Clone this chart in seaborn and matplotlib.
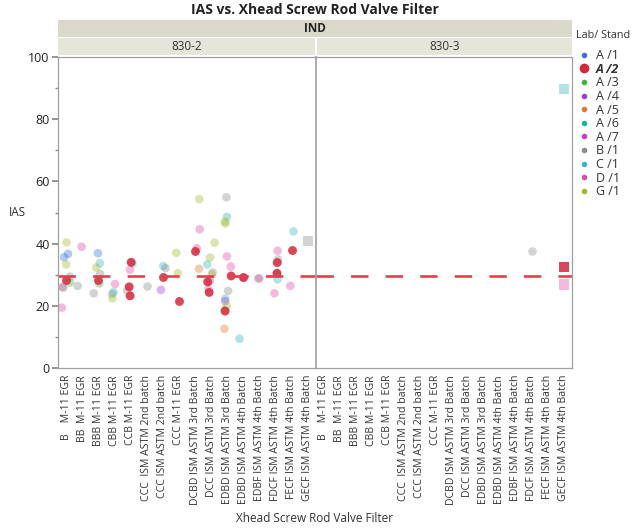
import numpy as np
import pandas as pd
import matplotlib
matplotlib.use("Agg")
import matplotlib.pyplot as plt
from matplotlib.lines import Line2D
import seaborn as sns

# ---------------- data ----------------
categories = ["B    M-11 EGR", "BB  M-11 EGR", "BBB M-11 EGR", "CBB M-11 EGR", "CCB M-11 EGR",
              "CCC  ISM ASTM 2nd batch", "CCC ISM ASTM 2nd batch", "CCC M-11 EGR",
              "DCBD ISM ASTM 3rd Batch", "DCC ISM ASTM 3rd Batch", "EDBD ISM ASTM 3rd Batch",
              "EDBD ISM ASTM 4th Batch", "EDBF ISM ASTM 4th Batch", "FDCF ISM ASTM 4th Batch",
              "FECF ISM ASTM 4th Batch", "GECF ISM ASTM 4th Batch"]
panels = ["830-2", "830-3"]
labs = ["A /1", "A /2", "A /3", "A /4", "A /5", "A /6", "A /7", "B /1", "C /1", "D /1", "G /1"]
lab_colors = ["#3A6FD8", "#D3283D", "#3DB33D", "#A23CD6", "#E0792A", "#22B39A", "#C93BD0",
              "#8C8C8C", "#33B7C4", "#E04BA8", "#9DBA2C"]
highlight_lab = "A /2"
ref_value = 29.6

# points of panel 830-2: (category index, lab, IAS)
p1_cat = [0,0,0,0,0,0,0,0,0,0,
          1,1,
          2,2,2,2,2,2,2,
          3,3,3,3,
          4,4,4,4,4,4,
          5,
          6,6,6,6,
          7,7,7,
          8,8,8,8,8,
          9,9,9,9,9,9,9,9,9,
          10,10,10,10,10,10,10,10,10,10,10,10,10,10,
          11,11,11,
          12,12,
          13,13,13,13,13,13,13,
          14,14,14]
p1_lab = ["G /1","A /1","A /1","G /1","B /1","A /2","A /3","D /1","B /1","D /1",
          "D /1","B /1",
          "A /1","C /1","G /1","B /1","A /2","A /3","B /1",
          "D /1","B /1","C /1","G /1",
          "A /2","C /1","D /1","A /2","B /1","A /2",
          "B /1",
          "C /1","B /1","A /2","A /4",
          "G /1","G /1","A /2",
          "G /1","D /1","D /1","A /2","A /5",
          "G /1","G /1","C /1","B /1","G /1","A /7","A /2","D /1","A /2",
          "B /1","C /1","G /1","G /1","D /1","D /1","A /2","B /1","C /1","A /4","G /1","G /1","A /2","A /5",
          "A /2","A /4","C /1",
          "D /1","B /1",
          "D /1","B /1","A /2","C /1","A /2","C /1","D /1",
          "C /1","A /2","D /1"]
p1_ias = [40.4,36.7,35.6,33.3,29.4,28.4,27.5,26.1,25.8,19.4,
          39.0,26.4,
          36.9,33.7,32.3,30.2,28.4,27.2,24.0,
          27.0,23.8,24.4,22.4,
          34.0,33.6,31.6,26.1,24.8,23.2,
          26.3,
          32.8,32.1,29.1,25.1,
          37.0,30.5,21.5,
          54.3,44.6,38.5,37.6,31.9,
          40.3,35.5,33.3,30.7,30.0,28.0,27.7,25.3,24.3,
          54.9,48.6,47.1,46.5,35.9,32.6,29.6,24.8,22.3,21.5,19.9,18.6,18.3,12.6,
          29.1,29.0,9.4,
          28.8,28.8,
          37.7,34.9,33.9,30.7,30.4,28.5,24.0,
          43.9,37.9,26.4]
# points of panel 830-3
p2_cat = [13]
p2_lab = ["B /1"]
p2_ias = [37.5]
# square markers (panel, category index, lab, IAS)
sq_panel = ["830-2", "830-3", "830-3", "830-3"]
sq_cat = [15, 15, 15, 15]
sq_lab = ["B /1", "C /1", "A /2", "D /1"]
sq_ias = [40.9, 89.8, 32.4, 26.8]

df = pd.DataFrame({
    "panel": ["830-2"] * len(p1_cat) + ["830-3"] * len(p2_cat),
    "filter": [categories[i] for i in p1_cat + p2_cat],
    "lab": p1_lab + p2_lab,
    "IAS": p1_ias + p2_ias,
})
sq = pd.DataFrame({"panel": sq_panel, "filter": [categories[i] for i in sq_cat],
                   "lab": sq_lab, "IAS": sq_ias})
pal = dict(zip(labs, lab_colors))

# ---------------- figure ----------------
sns.set_theme(style="white")
plt.rcParams["font.family"] = ["Open Sans", "DejaVu Sans"]
np.random.seed(3)

W, H = 633, 529
fig = plt.figure(figsize=(W / 100, H / 100), dpi=100)

def fx(px):
    return px / W

def fy(py):
    return 1 - py / H

x0, xm, x1 = 58, 316, 572
ytop, ybot = 57, 368
axes = [fig.add_axes([fx(x0), fy(ybot), fx(xm - x0), fy(ytop) - fy(ybot)]),
        fig.add_axes([fx(xm), fy(ybot), fx(x1 - xm), fy(ytop) - fy(ybot)])]

for ax, pn in zip(axes, panels):
    sub = df[df["panel"] == pn]
    other = sub[sub["lab"] != highlight_lab]
    hl = sub[sub["lab"] == highlight_lab]
    sns.stripplot(data=other, x="filter", y="IAS", hue="lab", order=categories, hue_order=labs,
                  palette=pal, jitter=0.3, size=6.2, alpha=0.38, linewidth=0, ax=ax, legend=False)
    if len(hl):
        sns.stripplot(data=hl, x="filter", y="IAS", hue="lab", order=categories, hue_order=labs,
                      palette=pal, jitter=0.25, size=6.4, alpha=0.85, linewidth=0, ax=ax, legend=False)
    s = sq[sq["panel"] == pn]
    s_o = s[s["lab"] != highlight_lab]
    s_h = s[s["lab"] == highlight_lab]
    if len(s_o):
        sns.stripplot(data=s_o, x="filter", y="IAS", hue="lab", order=categories, hue_order=labs,
                      palette=pal, jitter=False, size=7.5, marker="s", alpha=0.38, linewidth=0,
                      ax=ax, legend=False)
    if len(s_h):
        sns.stripplot(data=s_h, x="filter", y="IAS", hue="lab", order=categories, hue_order=labs,
                      palette=pal, jitter=False, size=7.5, marker="s", alpha=0.85, linewidth=0,
                      ax=ax, legend=False)
    ax.axhline(ref_value, color="#EE3A4B", lw=1.9, dashes=(6.6, 6.5), zorder=5)
    ax.set_xlim(-0.5, len(categories) - 0.5)
    ax.set_ylim(0, 100)
    ax.set_xlabel("")
    ax.set_ylabel("")
    ax.set_xticks(range(len(categories)))
    ax.set_xticklabels(categories, rotation=90, fontsize=7.6, color="#333333")
    ax.tick_params(axis="x", length=3, color="#999999", pad=2)
    for sp in ax.spines.values():
        sp.set_color("#A0A0A0")
        sp.set_linewidth(0.9)
        sp.set_zorder(10)

axes[0].set_yticks([0, 20, 40, 60, 80, 100])
axes[0].set_yticks([10, 30, 50, 70, 90], minor=True)
axes[0].tick_params(axis="y", which="major", length=4, color="#888888", labelsize=9,
                    labelcolor="#222222", left=True, pad=2)
axes[0].tick_params(axis="y", which="minor", length=2.5, color="#888888", left=True)
axes[1].set_yticks([])
axes[1].spines["left"].set_color("#A0A0A0")
axes[1].spines["left"].set_linewidth(1.2)

# header strips
ind_ax = fig.add_axes([fx(x0), fy(37), fx(x1 - x0), fy(20) - fy(37)])
ind_ax.set_facecolor("#DAD8C8")
ind_ax.set_xticks([]); ind_ax.set_yticks([])
for sp in ind_ax.spines.values():
    sp.set_visible(False)
ind_ax.text(0.5, 0.5, "IND", ha="center", va="center", fontsize=8.5, fontweight="bold",
            color="#222222", transform=ind_ax.transAxes)
for (a, b), pn in zip([(x0, xm - 1), (xm + 1, x1)], panels):
    sa = fig.add_axes([fx(a), fy(55), fx(b - a), fy(38) - fy(55)])
    sa.set_facecolor("#E6E5DA")
    sa.set_xticks([]); sa.set_yticks([])
    for sp in sa.spines.values():
        sp.set_visible(False)
    sa.text(0.5, 0.5, pn, ha="center", va="center", fontsize=8.5, color="#333333",
            transform=sa.transAxes)

# titles
fig.text(fx(315), fy(10), "IAS vs. Xhead Screw Rod Valve Filter", ha="center", va="center",
         fontsize=10, fontweight="bold", color="#222222")
fig.text(fx(315), fy(519), "Xhead Screw Rod Valve Filter", ha="center", va="center",
         fontsize=8.5, color="#333333")
fig.text(fx(17), fy(212), "IAS", ha="center", va="center", fontsize=8.5, color="#333333")

# legend
fig.text(fx(576), fy(35), "Lab/ Stand", ha="left", va="center", fontsize=7.8, color="#333333")
handles = []
for lab, col in zip(labs, lab_colors):
    big = lab == highlight_lab
    handles.append(Line2D([0], [0], marker="o", linestyle="", color=col,
                          markersize=7 if big else 4, markeredgewidth=0))
leg = fig.legend(handles, labs, loc="upper left",
                 bbox_to_anchor=(fx(576), fy(49)), frameon=False, fontsize=9,
                 handletextpad=0.4, labelspacing=0.05,
                 handlelength=1.2, borderaxespad=0, borderpad=0)
for t in leg.get_texts():
    t.set_color("#333333")
    if t.get_text() == highlight_lab:
        t.set_fontweight("bold")
        t.set_fontstyle("italic")

fig.savefig("out.png", dpi=100)
